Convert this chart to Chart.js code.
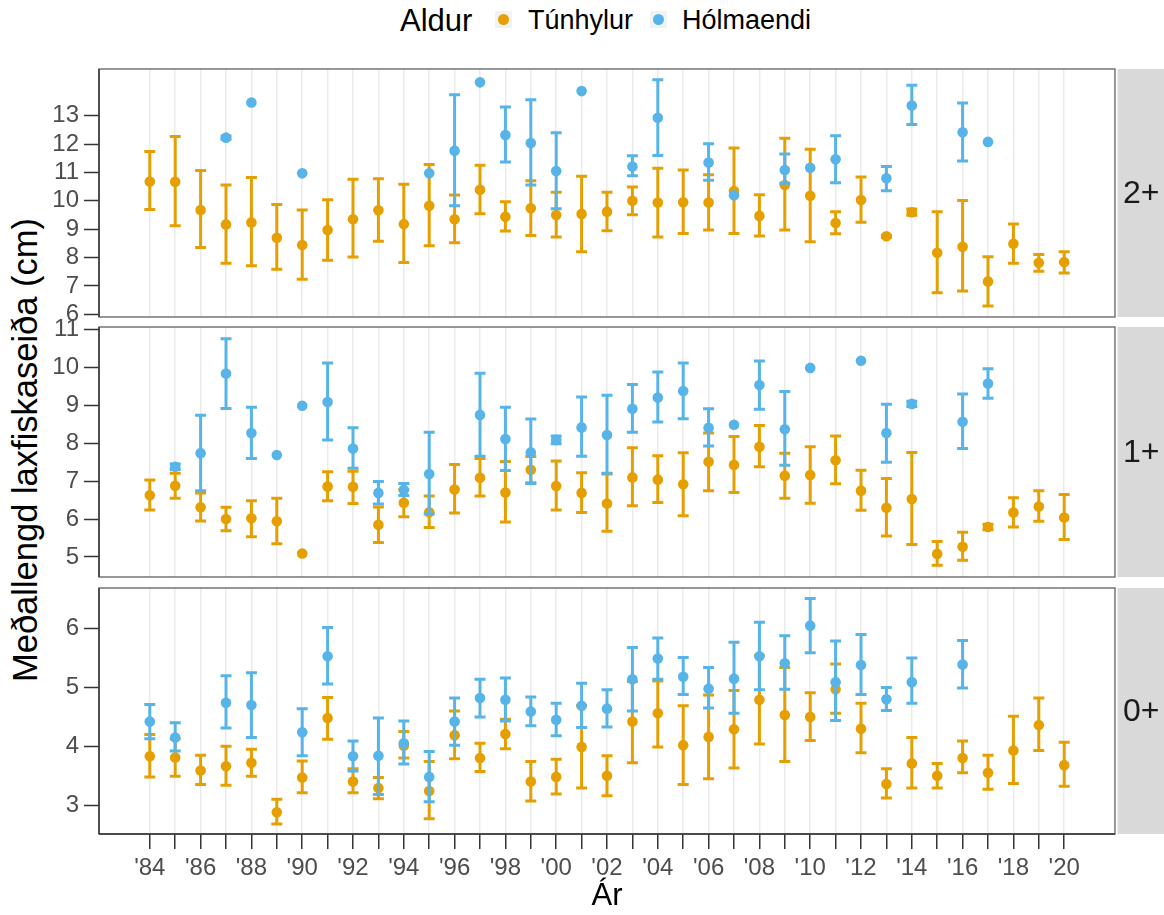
<!DOCTYPE html>
<html lang="is">
<head>
<meta charset="utf-8">
<title>Meðallengd laxfiskaseiða</title>
<script src="https://cdn.jsdelivr.net/npm/chart.js@4.4.1/dist/chart.umd.min.js"></script>
<style>
  html, body { margin: 0; padding: 0; background: #fff; }
  body { width: 1164px; height: 915px; position: relative; overflow: hidden;
         font-family: "Liberation Sans", Arial, sans-serif; }
  canvas { position: absolute; left: 0; }
  .lg { position: absolute; line-height: 1; white-space: nowrap; color: #000; }
  .lg-title { font-size: 31px; left: 400px; top: 5px; }
  .lg-text { font-size: 27px; top: 7px; }
  .lg-key { position: absolute; top: 11px; width: 17px; height: 17px; background: #F2F2F2; }
  .lg-key i { position: absolute; left: 3px; top: 3px; width: 11px; height: 11px; border-radius: 50%; }
  #ytitle { position: absolute; left: 26px; top: 450px; font-size: 34.5px; line-height: 1.2;
            white-space: nowrap; color: #000; transform: translate(-50%, -50%) rotate(-90deg); }
</style>
</head>
<body>

<div class="lg lg-title">Aldur</div>
<div class="lg-key" style="left:495px"><i style="background:#E69F00"></i></div>
<div class="lg lg-text" style="left:528px">Túnhylur</div>
<div class="lg-key" style="left:650px"><i style="background:#56B4E9"></i></div>
<div class="lg lg-text" style="left:682px">Hólmaendi</div>
<div id="ytitle">Meðallengd laxfiskaseiða (cm)</div>

<canvas id="p2" width="1164" height="272" style="top:57px"></canvas>
<canvas id="p1" width="1164" height="274" style="top:315px"></canvas>
<canvas id="p0" width="1164" height="339" style="top:576px"></canvas>

<script>
// ---- Years on the x axis and their tick labels ----
const years = [1984,1985,1986,1987,1988,1989,1990,1991,1992,1993,1994,1995,1996,1997,1998,1999,2000,
               2001,2002,2003,2004,2005,2006,2007,2008,2009,2010,2011,2012,2013,2014,2015,2016,2017,
               2018,2019,2020];
const yearTickLabels = ["'84","","'86","","'88","","'90","","'92","","'94","","'96","","'98","","'00",
                        "","'02","","'04","","'06","","'08","","'10","","'12","","'14","","'16","",
                        "'18","","'20"];

// ---- Age 2+ ----
const tun2Mean = [10.68,10.67,9.68,9.17,9.24,8.70,8.44,8.97,9.35,9.67,9.18,9.83,9.35,10.39,9.44,9.74,9.50,
                  9.54,9.62,10.00,9.94,9.95,9.94,10.35,9.47,10.56,10.18,9.22,10.03,8.75,9.60,8.17,8.38,7.16,
                  8.49,7.82,7.84];
const tun2Lo   = [9.70,9.12,8.36,7.80,7.71,7.59,7.24,7.91,8.02,8.58,7.83,8.42,8.52,9.55,8.94,8.78,8.73,
                  8.21,8.95,9.51,8.73,8.85,8.97,8.85,8.76,8.97,8.56,8.84,9.25,8.71,9.49,6.76,6.82,6.29,
                  7.80,7.52,7.46];
const tun2Hi   = [11.74,12.27,11.07,10.56,10.82,9.87,9.68,10.04,10.76,10.78,10.59,11.28,10.21,11.26,9.97,10.71,10.30,
                  10.87,10.30,10.49,11.15,11.09,10.92,11.86,10.22,12.21,11.82,9.62,10.84,8.79,9.71,9.62,10.01,8.03,
                  9.18,8.11,8.21];
const hol2Mean = [null,null,null,12.23,13.47,null,10.97,null,null,null,null,10.97,11.77,14.18,12.32,12.04,11.05,
                  13.87,null,11.21,12.93,null,11.35,10.20,null,11.09,11.17,11.47,null,10.80,13.36,null,12.42,12.08,
                  null,null,null];
const hol2Lo   = [null,null,null,12.17,null,null,null,null,null,null,null,null,9.83,null,11.37,10.56,9.72,
                  null,null,10.89,11.60,null,10.73,null,null,10.62,null,10.64,null,10.36,12.69,null,11.41,null,
                  null,null,null];
const hol2Hi   = [null,null,null,12.29,null,null,null,null,null,null,null,null,13.74,null,13.31,13.57,12.40,
                  null,null,11.59,14.27,null,12.01,null,null,11.65,null,12.30,null,11.21,14.08,null,13.45,null,
                  null,null,null];

// ---- Age 1+ ----
const tun1Mean = [6.63,6.88,6.31,6.00,6.02,5.94,5.09,6.86,6.85,5.85,6.43,6.18,6.78,7.09,6.70,7.30,6.87,
                  6.69,6.41,7.10,7.04,6.92,7.51,7.43,7.91,7.14,7.16,7.55,6.75,6.30,6.53,5.08,5.27,5.79,
                  6.17,6.33,6.04];
const tun1Lo   = [6.24,6.55,5.95,5.69,5.53,5.35,null,6.48,6.41,5.38,6.06,5.78,6.16,6.61,5.92,6.96,6.24,
                  6.17,5.68,6.35,6.44,6.09,6.75,6.70,7.38,6.55,6.42,6.93,6.23,5.55,5.33,4.78,4.91,5.72,
                  5.79,5.94,5.46];
const tun1Hi   = [7.03,7.21,6.69,6.31,6.48,6.55,null,7.25,7.26,6.32,6.78,6.61,7.44,7.60,7.52,7.65,7.53,
                  7.22,7.19,7.88,7.67,7.75,8.27,8.18,8.47,7.74,7.91,8.19,7.29,7.07,7.76,5.41,5.65,5.86,
                  6.56,6.75,6.65];
const hol1Mean = [null,7.38,7.74,9.84,8.27,7.69,8.99,9.09,7.86,6.69,6.77,7.19,null,8.75,8.11,7.76,8.09,
                  8.42,8.22,8.91,9.21,9.38,8.41,8.49,9.54,8.37,9.99,null,10.18,8.27,9.04,null,8.57,9.58,
                  null,null,null];
const hol1Lo   = [null,7.31,6.75,8.92,7.60,null,null,8.09,7.34,6.40,6.62,6.13,null,7.66,7.28,6.94,7.99,
                  7.66,7.21,8.29,8.56,8.65,7.93,null,8.90,7.42,null,null,null,7.50,8.97,null,7.86,9.19,
                  null,null,null];
const hol1Hi   = [null,7.45,8.74,10.76,8.95,null,null,10.12,8.41,6.99,6.94,8.29,null,9.85,8.95,8.64,8.19,
                  9.22,9.27,9.55,9.88,10.12,8.91,null,10.17,9.37,null,null,null,9.03,9.11,null,9.30,9.97,
                  null,null,null];

// ---- Age 0+ ----
const tun0Mean = [3.83,3.81,3.59,3.66,3.72,2.88,3.47,4.48,3.40,3.29,4.01,3.24,4.19,3.80,4.21,3.40,3.48,
                  3.99,3.50,4.42,4.56,4.02,4.16,4.29,4.79,4.53,4.50,4.97,4.30,3.36,3.71,3.50,3.80,3.55,
                  3.93,4.36,3.68];
const tun0Lo   = [3.48,3.49,3.35,3.34,3.49,2.68,3.21,4.12,3.21,3.11,3.80,2.77,3.79,3.57,3.96,3.07,3.19,
                  3.29,3.16,3.72,3.99,3.35,3.45,3.63,4.04,3.74,4.10,4.56,3.89,3.12,3.29,3.29,3.55,3.27,
                  3.37,3.93,3.32];
const tun0Hi   = [4.20,4.13,3.85,4.00,3.95,3.10,3.75,4.83,3.62,3.47,4.25,3.74,4.60,4.05,4.46,3.74,3.78,
                  4.69,3.84,5.10,5.11,4.69,4.87,4.95,5.54,5.34,4.91,5.40,4.73,3.62,4.15,3.71,4.09,3.85,
                  4.51,4.82,4.07];
const hol0Mean = [4.42,4.15,null,4.74,4.70,null,4.24,5.53,3.83,3.84,4.05,3.48,4.42,4.82,4.79,4.59,4.45,
                  4.69,4.64,5.14,5.49,5.18,4.98,5.15,5.53,5.41,6.05,5.09,5.38,4.80,5.09,null,5.39,null,
                  null,null,null];
const hol0Lo   = [4.13,3.92,null,4.31,4.15,null,3.84,5.06,3.58,3.18,3.70,3.06,4.02,4.50,4.43,4.35,4.18,
                  4.32,4.33,4.60,5.14,4.88,4.65,4.56,4.96,4.97,5.59,4.44,4.88,4.61,4.73,null,4.99,null,
                  null,null,null];
const hol0Hi   = [4.71,4.40,null,5.20,5.25,null,4.64,6.02,4.09,4.48,4.43,3.91,4.82,5.14,5.16,4.84,4.73,
                  5.07,4.96,5.68,5.84,5.51,5.34,5.77,6.11,5.88,6.51,5.79,5.90,5.00,5.50,null,5.80,null,
                  null,null,null];

// ---- Y tick values per panel ----
const yTicks2 = [6,7,8,9,10,11,12,13];
const yTicks1 = [5,6,7,8,9,10,11];
const yTicks0 = [3,4,5,6];

const seriesNames = ['Hólmaendi', 'Túnhylur'];
const COL_TUN = '#E69F00';
const COL_HOL = '#56B4E9';
const TICK_FONT = { family: '"Liberation Sans", Arial, sans-serif', size: 24 };

// Error bars: a vertical segment with caps, drawn just before each dataset's points
const errorBars = {
  id: 'errorBars',
  beforeDatasetDraw(chart, args) {
    const ds = chart.data.datasets[args.index];
    if (!ds.errLo) return;
    const xs = chart.scales.x, ys = chart.scales.y, ctx = chart.ctx;
    ctx.save();
    ctx.strokeStyle = ds.backgroundColor;
    ctx.lineWidth = 3;
    ctx.lineCap = 'butt';
    ds.errLo.forEach((lo, i) => {
      const hi = ds.errHi[i];
      if (lo == null || hi == null) return;
      const x = xs.getPixelForValue(years[i]);
      const y1 = ys.getPixelForValue(lo), y2 = ys.getPixelForValue(hi);
      ctx.beginPath();
      ctx.moveTo(x, y1); ctx.lineTo(x, y2);
      ctx.moveTo(x - 5.5, y1); ctx.lineTo(x + 5.5, y1);
      ctx.moveTo(x - 5.5, y2); ctx.lineTo(x + 5.5, y2);
      ctx.stroke();
    });
    ctx.restore();
  }
};

// Panel frame and facet strip on the right
const panelFrame = {
  id: 'panelFrame',
  afterDraw(chart, args, opts) {
    const { ctx, chartArea: a } = chart;
    ctx.save();
    ctx.fillStyle = '#D9D9D9';
    ctx.fillRect(a.right + 2.5, a.top, chart.width - a.right - 2.5, a.bottom - a.top);
    ctx.fillStyle = '#1A1A1A';
    ctx.font = '32px "Liberation Sans", Arial, sans-serif';
    ctx.textAlign = 'center';
    ctx.textBaseline = 'middle';
    ctx.fillText(opts.strip, (a.right + 2.5 + chart.width) / 2 + 0.5, (a.top + a.bottom) / 2 + 1);
    ctx.strokeStyle = '#6B6B6B';
    ctx.lineWidth = 1.4;
    ctx.strokeRect(a.left, a.top, a.right - a.left, a.bottom - a.top);
    ctx.strokeStyle = '#333333';
    ctx.beginPath();
    ctx.moveTo(a.left, a.top); ctx.lineTo(a.left, a.bottom);
    if (opts.bottomAxis) { ctx.moveTo(a.left, a.bottom); ctx.lineTo(a.right, a.bottom); }
    ctx.stroke();
    ctx.restore();
  }
};

function makeDatasets(holMean, holLo, holHi, tunMean, tunLo, tunHi) {
  const pts = arr => arr.map((v, i) => (v == null ? null : { x: years[i], y: v })).filter(p => p);
  return [
    { label: seriesNames[0], data: pts(holMean), errLo: holLo, errHi: holHi,
      backgroundColor: COL_HOL, borderColor: COL_HOL },
    { label: seriesNames[1], data: pts(tunMean), errLo: tunLo, errHi: tunHi,
      backgroundColor: COL_TUN, borderColor: COL_TUN }
  ];
}

function makePanel(canvasId, datasets, yMin, yMax, yTicks, strip, isBottom) {
  return new Chart(document.getElementById(canvasId), {
    type: 'scatter',
    data: { datasets },
    plugins: [errorBars, panelFrame],
    options: {
      responsive: false,
      animation: false,
      devicePixelRatio: 1,
      layout: { padding: { left: 0, right: 49, top: 12, bottom: isBottom ? 0 : 12 } },
      elements: { point: { radius: 5.3, borderWidth: 0, hoverRadius: 5.3 } },
      plugins: { legend: { display: false }, tooltip: { enabled: false }, panelFrame: { strip, bottomAxis: isBottom } },
      scales: {
        x: {
          type: 'linear', min: 1982, max: 2022,
          afterBuildTicks: s => { s.ticks = years.map(v => ({ value: v })); },
          afterFit: s => { s.height = isBottom ? 81 : 0; s.paddingLeft = 0; s.paddingRight = 0; },
          grid: { color: '#EBEBEB', lineWidth: 1.5, drawTicks: isBottom, tickLength: 15,
                  tickColor: '#333333', tickWidth: 1.5 },
          border: { display: false },
          ticks: {
            display: isBottom, autoSkip: false, maxRotation: 0, minRotation: 0, padding: 5,
            color: '#4D4D4D', font: TICK_FONT,
            callback: v => yearTickLabels[years.indexOf(v)]
          },
          title: {
            display: isBottom, text: 'Ár', color: '#000',
            font: { family: '"Liberation Sans", Arial, sans-serif', size: 31 },
            padding: { top: 0, bottom: 0 }
          }
        },
        y: {
          type: 'linear', min: yMin, max: yMax,
          afterBuildTicks: s => { s.ticks = yTicks.map(v => ({ value: v })); },
          afterFit: s => { s.width = 99; s.paddingTop = 0; s.paddingBottom = 0; },
          grid: { drawOnChartArea: false, drawTicks: true, tickLength: 15, tickColor: '#333333', tickWidth: 1.5 },
          border: { display: false },
          ticks: { color: '#4D4D4D', font: TICK_FONT, padding: 5 }
        }
      }
    }
  });
}

makePanel('p2', makeDatasets(hol2Mean, hol2Lo, hol2Hi, tun2Mean, tun2Lo, tun2Hi), 5.905, 14.65, yTicks2, '2+', false);
makePanel('p1', makeDatasets(hol1Mean, hol1Lo, hol1Hi, tun1Mean, tun1Lo, tun1Hi), 4.47, 11.07, yTicks1, '1+', false);
makePanel('p0', makeDatasets(hol0Mean, hol0Lo, hol0Hi, tun0Mean, tun0Lo, tun0Hi), 2.51, 6.69, yTicks0, '0+', true);
</script>
</body>
</html>
